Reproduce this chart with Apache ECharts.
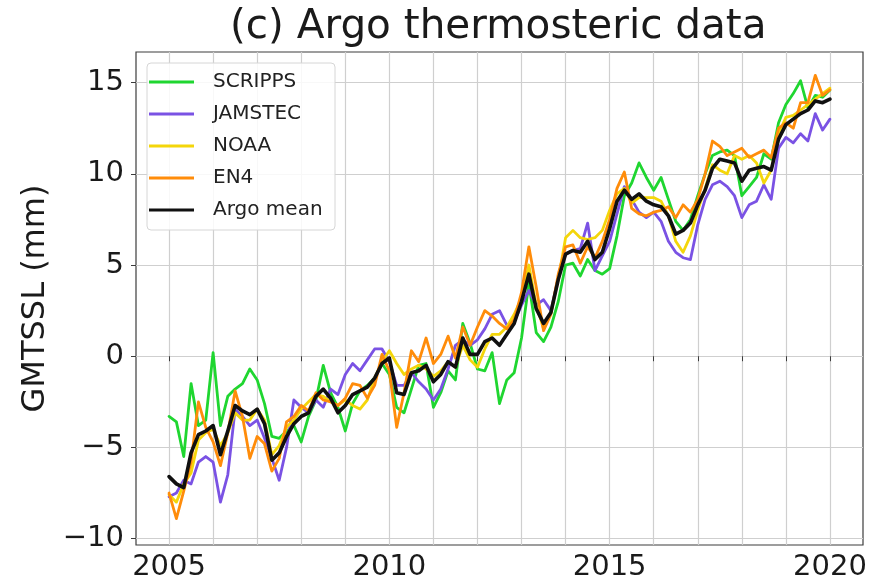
<!DOCTYPE html>
<html>
<head>
<meta charset="utf-8">
<script src="https://cdn.jsdelivr.net/npm/echarts@6/dist/echarts.min.js"></script>
<style>
  html, body { margin: 0; padding: 0; background: #ffffff; }
  #chart { width: 879px; height: 584px; }
</style>
</head>
<body>
<div id="chart"></div>
<script>
// Bimonthly global mean thermosteric sea level (mm), Jan 2005 – Jan 2020
const startYear = 2005;
const stepYears = 1 / 6;

const scripps = [
  -3.3, -3.6, -5.5, -1.5, -3.8, -3.5, 0.2, -3.8, -2.2, -1.8, -1.5, -0.7,
  -1.3, -2.6, -4.4, -4.5, -4.1, -3.8, -4.7, -3.3, -2.4, -0.5, -2.0, -2.8,
  -4.1, -2.6, -1.9, -1.6, -1.2, -0.4, -1.0, -2.8, -3.1, -1.8, -0.5, -0.4,
  -2.8, -2.0, -0.8, -1.3, 1.8, 0.7, -0.7, -0.8, 0.2, -2.6, -1.3, -0.9,
  1.0, 4.0, 1.3, 0.8, 1.6, 3.0, 5.0, 5.1, 4.4, 5.3, 4.7, 4.5,
  4.8, 6.6, 8.8, 9.5, 10.6, 9.8, 9.1, 9.8, 8.6, 7.4, 6.9, 7.5,
  8.8, 10.0, 11.0, 11.2, 11.3, 11.0, 8.8, 9.3, 9.8, 11.1, 10.8, 12.8,
  13.8, 14.4, 15.1, 13.6, 14.3, 14.2, 14.6
];

const jamstec = [
  -7.7, -7.5, -6.8, -7.0, -5.8, -5.5, -5.8, -8.0, -6.5, -2.9, -3.3, -3.8,
  -3.5, -4.5, -5.6, -6.8, -5.0, -2.4, -2.8, -3.1, -2.4, -2.8, -1.8, -2.1,
  -1.0, -0.4, -0.8, -0.2, 0.4, 0.4, -0.3, -1.6, -1.6, -0.9, -1.4, -1.8,
  -2.4, -1.8, -0.7, 0.6, 0.9, 0.6, 0.9, 1.5, 2.3, 2.5, 1.7, 1.9,
  2.8, 3.6, 2.8, 3.1, 2.5, 4.3, 5.6, 5.8, 5.9, 7.3, 4.7, 5.5,
  6.3, 7.8, 9.3, 8.6, 7.9, 7.6, 7.9, 7.4, 6.3, 5.7, 5.4, 5.3,
  7.2, 8.6, 9.4, 9.6, 9.3, 8.8, 7.6, 8.3, 8.5, 9.4, 8.6, 11.4,
  12.0, 11.7, 12.2, 11.8, 13.3, 12.4, 13.0
];

const noaa = [
  -7.6, -8.0, -7.0, -6.4, -4.6, -4.2, -4.0, -4.9, -4.2, -3.1, -3.5, -3.5,
  -2.9, -3.5, -5.4, -4.9, -3.9, -3.5, -2.9, -2.5, -2.1, -2.2, -2.5, -2.7,
  -2.4, -2.7, -2.9, -2.4, -1.2, -0.3, 0.3, -0.4, -1.0, -0.7, -0.5, -0.7,
  -1.1, -0.8, -0.3, -0.6, 0.6, -0.2, -0.6, 0.4, 1.2, 1.2, 1.6, 2.3,
  3.2, 5.0, 2.8, 1.5, 2.4, 4.2, 6.5, 6.9, 6.5, 6.4, 6.5, 6.9,
  8.0, 8.9, 9.2, 8.4, 8.7, 8.7, 8.7, 8.5, 7.7, 6.3, 5.7, 6.6,
  8.0, 9.2, 10.5, 10.2, 10.0, 11.0, 10.8, 11.0, 10.6, 9.5, 10.2, 12.2,
  13.1, 13.2, 13.5, 13.8, 14.1, 14.4, 14.7
];

const en4 = [
  -7.5, -8.9, -7.4, -5.8, -2.5, -3.9, -4.7, -6.0, -4.2, -1.9, -3.3, -5.6,
  -4.4, -4.8, -6.3, -5.6, -3.6, -3.3, -2.7, -3.0, -2.0, -2.4, -2.5, -2.7,
  -2.3, -1.5, -1.6, -2.3, -1.6, 0.1, -0.8, -3.9, -2.0, 0.3, -0.3, 1.0,
  -0.4, 0.1, 1.1, -0.1, 1.6, 0.6, 1.6, 2.5, 2.2, 1.8, 1.5, 2.0,
  3.5, 6.0, 3.8, 1.4, 2.3, 4.5, 6.0, 6.1, 5.1, 6.0, 5.4, 6.3,
  7.5, 9.2, 10.1, 8.1, 7.8, 7.7, 7.9, 8.0, 8.2, 7.6, 8.3, 7.9,
  8.6, 10.0, 11.8, 11.5, 11.0, 11.2, 11.4, 10.9, 11.1, 11.3, 10.9, 12.5,
  12.8, 12.5, 13.9, 13.9, 15.4, 14.3, 14.6
];

const argoMean = [
  -6.6, -7.0, -7.2, -5.3, -4.3, -4.1, -3.8, -5.4, -4.1, -2.7, -3.0, -3.2,
  -2.9, -3.7, -5.7, -5.3, -4.4, -3.7, -3.3, -3.1, -2.2, -1.8, -2.3, -3.1,
  -2.7, -2.1, -1.9, -1.7, -1.2, -0.4, -0.1, -2.0, -2.1, -0.9, -0.8, -0.5,
  -1.4, -1.0, -0.3, -0.6, 1.0, 0.1, 0.1, 0.8, 1.0, 0.6, 1.2, 1.8,
  3.0, 4.5, 2.6, 1.8, 2.4, 4.2, 5.6, 5.8, 5.7, 6.3, 5.3, 5.7,
  7.0, 8.5, 9.1, 8.6, 8.9, 8.5, 8.3, 8.2, 7.7, 6.7, 6.9, 7.3,
  8.3, 9.1, 10.3, 10.8, 10.7, 10.6, 9.6, 10.2, 10.3, 10.4, 10.2, 11.9,
  12.7, 13.0, 13.3, 13.5, 14.0, 13.9, 14.1
];

const seriesNames = ['SCRIPPS', 'JAMSTEC', 'NOAA', 'EN4', 'Argo mean'];
const xTickYears = [2005, 2006, 2007, 2008, 2009, 2010, 2011, 2012, 2013, 2014, 2015, 2016, 2017, 2018, 2019, 2020];
const xLabelYears = [2005, 2010, 2015, 2020];
const yTickValues = [-10, -5, 0, 5, 10, 15];

const FONT = 'DejaVu Sans';
const colors = ['#1fd630', '#7a52e4', '#f4d60a', '#ff8c0a', '#101010'];
const widths = [2.8, 2.8, 2.8, 2.8, 3.6];

function toPoints(values) {
  return values.map((v, i) => [startYear + i * stepYears, v]);
}

const chart = echarts.init(document.getElementById('chart'), null, { renderer: 'canvas' });

const lineSeries = [scripps, jamstec, noaa, en4, argoMean].map((vals, k) => ({
  name: seriesNames[k],
  type: 'line',
  data: toPoints(vals),
  showSymbol: false,
  symbol: 'none',
  smooth: false,
  z: 2 + k * 0.1,
  lineStyle: { color: colors[k], width: widths[k], join: 'round', cap: 'round' },
  itemStyle: { color: colors[k] },
  emphasis: { disabled: true },
  animation: false
}));

chart.setOption({
  animation: false,
  backgroundColor: '#ffffff',
  title: {
    text: '(c) Argo thermosteric data',
    left: 230,
    top: 7,
    padding: 0,
    textStyle: { fontFamily: FONT, fontSize: 40.5, fontWeight: 'normal', color: '#1a1a1a' }
  },
  grid: {
    left: 136, right: 16, top: 52, bottom: 39,
    show: true, borderColor: '#3c3c3c', borderWidth: 1.2, backgroundColor: 'transparent'
  },
  legend: {
    orient: 'vertical',
    left: 149,
    top: 71,
    padding: 0,
    itemGap: 10,
    itemWidth: 73,
    itemHeight: 3,
    symbolKeepAspect: true,
    selectedMode: false,
    data: seriesNames.map((n) => ({ name: n, icon: 'path://M0,0H45V3H0Z' })),
    textStyle: { fontFamily: FONT, fontSize: 20, color: '#222222', lineHeight: 22 },
    z: 6
  },
  graphic: [{
    type: 'rect',
    z: 5,
    shape: { x: 147, y: 63, width: 188, height: 167, r: 4 },
    style: { fill: 'rgba(255,255,255,0.85)', stroke: '#d6d6d6', lineWidth: 1 }
  }],
  xAxis: {
    type: 'value',
    min: 2004.25,
    max: 2020.75,
    axisLine: { show: false },
    axisTick: { show: true, customValues: xTickYears, length: 5, lineStyle: { color: '#3c3c3c', width: 1 } },
    axisLabel: {
      customValues: xLabelYears,
      fontFamily: FONT, fontSize: 29, color: '#1a1a1a', margin: 8,
      formatter: (v) => String(Math.round(v))
    },
    splitLine: { show: true, lineStyle: { color: '#cfcfcf', width: 1.2 } }
  },
  yAxis: {
    type: 'value',
    min: -10.35,
    max: 16.68,
    name: 'GMTSSL (mm)',
    nameLocation: 'middle',
    nameRotate: 90,
    nameGap: 84,
    nameTextStyle: { fontFamily: FONT, fontSize: 32, color: '#1a1a1a' },
    axisLine: { show: false },
    axisTick: { show: true, customValues: yTickValues, length: 5, lineStyle: { color: '#3c3c3c', width: 1 } },
    axisLabel: {
      customValues: yTickValues,
      fontFamily: FONT, fontSize: 29, color: '#1a1a1a', margin: 12,
      formatter: (v) => String(Math.round(v)).replace('-', '\u2212')
    },
    splitLine: { show: true, lineStyle: { color: '#cfcfcf', width: 1.2 } }
  },
  series: lineSeries
});
</script>
</body>
</html>
